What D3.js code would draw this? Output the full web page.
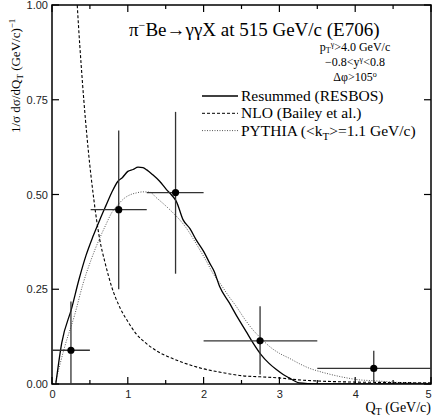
<!DOCTYPE html>
<html><head><meta charset="utf-8">
<script src="https://cdn.jsdelivr.net/npm/d3@7"></script>
<style>html,body{margin:0;padding:0;background:#fff;}svg{display:block;}</style>
</head><body>
<script>
// ---- data ----
const xTicks = [0,1,2,3,4,5];
const yTicks = [0.00,0.25,0.50,0.75,1.00];
const dataX   = [0.25, 0.88, 1.63, 2.745, 4.245];
const dataY   = [0.089, 0.460, 0.505, 0.114, 0.041];
const dataXlo = [0.0, 0.51, 1.25, 2.0, 3.5];
const dataXhi = [0.5, 1.25, 2.0, 3.5, 5.0];
const dataYlo = [0.0, 0.25, 0.291, 0.025, 0.0];
const dataYhi = [0.218, 0.669, 0.718, 0.205, 0.088];

const resX = [0.05,0.128,0.26,0.355,0.45,0.54,0.63,0.71,0.785,0.87,0.93,1.0,1.07,1.135,1.2,1.25,1.33,1.42,1.51,1.58,1.64,1.73,1.82,1.90,2.0,2.08,2.14,2.21,2.34,2.45,2.56,2.66,2.76,2.86,2.96,3.05,3.13,3.2,3.26,3.4,3.6,4.0,4.5,5.0];
const resY = [0.0,0.108,0.2,0.275,0.34,0.389,0.433,0.47,0.504,0.535,0.545,0.561,0.566,0.572,0.571,0.565,0.552,0.535,0.513,0.498,0.482,0.433,0.41,0.381,0.35,0.319,0.297,0.258,0.214,0.175,0.139,0.106,0.077,0.055,0.038,0.025,0.016,0.008,0.003,0.001,0.0,0.0,0.0,0.0];

const nloX = [0.27,0.3,0.333,0.4,0.478,0.55,0.63,0.7,0.785,0.9,1.0,1.1,1.25,1.4,1.5,1.75,2.0,2.25,2.5,2.75,3.0,3.25,3.5,4.0,4.5,5.0];
const nloY = [1.25,1.12,1.0,0.80,0.618,0.49,0.381,0.32,0.258,0.2,0.165,0.135,0.106,0.085,0.075,0.055,0.040,0.030,0.022,0.019,0.016,0.011,0.008,0.005,0.004,0.003];

const pyX = [0.04,0.17,0.30,0.41,0.52,0.63,0.71,0.785,0.87,0.96,1.04,1.11,1.2,1.29,1.38,1.49,1.60,1.69,1.77,1.86,1.95,2.04,2.12,2.23,2.33,2.43,2.54,2.65,2.76,2.87,3.0,3.13,3.26,3.39,3.53,3.66,3.79,3.92,4.05,4.2,4.36,4.5,4.75,5.0];
const pyY = [0.0,0.1,0.183,0.265,0.33,0.385,0.42,0.451,0.473,0.491,0.5,0.504,0.507,0.506,0.491,0.472,0.451,0.432,0.412,0.384,0.354,0.323,0.293,0.262,0.232,0.205,0.172,0.143,0.12,0.099,0.081,0.068,0.054,0.042,0.033,0.026,0.02,0.015,0.011,0.009,0.007,0.005,0.003,0.002];

// ---- layout ----
const W = 432, H = 419;
const m = {l:52, r:1, t:5, b:35};
const svg = d3.select("body").append("svg").attr("width",W).attr("height",H);
const x = d3.scaleLinear().domain([0,5]).range([m.l, W-m.r]);
const y = d3.scaleLinear().domain([0,1]).range([H-m.b, m.t]);
const serif = "'Liberation Serif','Times New Roman',serif";
const sans = "'Liberation Sans',Arial,sans-serif";

svg.append("defs").append("clipPath").attr("id","clip")
  .append("rect").attr("x",x(0)).attr("y",y(1)).attr("width",x(5)-x(0)).attr("height",y(0)-y(1));

// axes with inward ticks
const majorX = xTicks, minorX = d3.range(0.5,5,1);
const gAx = svg.append("g").attr("stroke","#000");
function tickLines(vals, len, side){
  vals.forEach(v=>{
    if(side==="b") gAx.append("line").attr("x1",x(v)).attr("x2",x(v)).attr("y1",y(0)).attr("y2",y(0)-len);
    if(side==="t") gAx.append("line").attr("x1",x(v)).attr("x2",x(v)).attr("y1",y(1)).attr("y2",y(1)+len);
    if(side==="l") gAx.append("line").attr("y1",y(v)).attr("y2",y(v)).attr("x1",x(0)).attr("x2",x(0)+len);
    if(side==="r") gAx.append("line").attr("y1",y(v)).attr("y2",y(v)).attr("x1",x(5)).attr("x2",x(5)-len);
  });
}
gAx.attr("stroke-width",1.2);
tickLines(majorX,7,"b"); tickLines(minorX,4,"b");
tickLines(majorX,7,"t"); tickLines(minorX,4,"t");
tickLines(yTicks,7,"l"); tickLines(yTicks,7,"r");

// tick labels via d3 axes (lines hidden)
const ax = svg.append("g").attr("transform",`translate(0,${y(0)})`)
  .call(d3.axisBottom(x).tickValues(xTicks).tickFormat(d3.format("d")).tickSize(0).tickPadding(6));
const ay = svg.append("g").attr("transform",`translate(${x(0)},0)`)
  .call(d3.axisLeft(y).tickValues(yTicks).tickFormat(d3.format(".2f")).tickSize(0).tickPadding(4));
[ax,ay].forEach(g=>{g.select(".domain").remove(); g.selectAll("text").attr("font-family",sans).attr("font-size",11).attr("fill","#222");});
ax.selectAll(".tick").filter(d=>d===5).select("text").attr("text-anchor","end").attr("dx",0);

svg.append("rect").attr("x",x(0)).attr("y",y(1)).attr("width",x(5)-x(0)).attr("height",y(0)-y(1))
  .attr("fill","none").attr("stroke","#000").attr("stroke-width",1.5);

// curves
const mk = (xs,ys)=>xs.map((v,i)=>[v,ys[i]]);
const line = d3.line().x(d=>x(d[0])).y(d=>y(d[1])).curve(d3.curveMonotoneX);
const gc = svg.append("g").attr("clip-path","url(#clip)").attr("fill","none");
gc.append("path").attr("d",line(mk(nloX,nloY))).attr("stroke","#000").attr("stroke-width",1.1).attr("stroke-dasharray","3,2");
gc.append("path").attr("d",line(mk(pyX,pyY))).attr("stroke","#555").attr("stroke-width",1).attr("stroke-dasharray","1,1.5");
gc.append("path").attr("d",line(mk(resX,resY))).attr("stroke","#000").attr("stroke-width",1.3);

// data points
const gd = svg.append("g");
dataX.forEach((v,i)=>{
  gd.append("line").attr("x1",x(dataXlo[i])).attr("x2",x(dataXhi[i])).attr("y1",y(dataY[i])).attr("y2",y(dataY[i])).attr("stroke","#333").attr("stroke-width",1.3);
  gd.append("line").attr("x1",x(v)).attr("x2",x(v)).attr("y1",y(dataYlo[i])).attr("y2",y(dataYhi[i])).attr("stroke","#333").attr("stroke-width",1.3);
  gd.append("circle").attr("cx",x(v)).attr("cy",y(dataY[i])).attr("r",3.6).attr("fill","#000");
});

// title
const t = svg.append("text").attr("x",129).attr("y",36).attr("font-family",serif).attr("font-size",19).attr("fill","#000");
t.append("tspan").text("π");
t.append("tspan").attr("dy",-7).attr("font-size",12).text("−");
t.append("tspan").attr("dy",7).text("Be→γγX at 515 GeV/c (E706)");

// cuts
const cx0 = 355;
const cf = 12;
const c1 = svg.append("text").attr("x",cx0).attr("y",51).attr("text-anchor","middle").attr("font-family",serif).attr("font-size",cf);
c1.append("tspan").text("p");
c1.append("tspan").attr("font-size",8).attr("dy",2).text("T");
c1.append("tspan").attr("font-size",8).attr("dy",-6).text("γ");
c1.append("tspan").attr("dy",4).text(">4.0 GeV/c");
const c2 = svg.append("text").attr("x",cx0).attr("y",66).attr("text-anchor","middle").attr("font-family",serif).attr("font-size",cf);
c2.append("tspan").text("−0.8<y");
c2.append("tspan").attr("font-size",8).attr("dy",-4).text("γ");
c2.append("tspan").attr("dy",4).text("<0.8");
const c3 = svg.append("text").attr("x",cx0).attr("y",81).attr("text-anchor","middle").attr("font-family",serif).attr("font-size",cf);
c3.append("tspan").text("Δφ>105");
c3.append("tspan").attr("font-size",8).attr("dy",-4).text("o");

// legend
const legNames = ["Resummed (RESBOS)","NLO (Bailey et al.)",null];
const legDash = [null,"3,2","1,1.5"];
const legCol = ["#000","#000","#555"];
const legY = [96,113.3,130.6];
legY.forEach((ly,i)=>{
  svg.append("line").attr("x1",202).attr("x2",238).attr("y1",ly).attr("y2",ly).attr("stroke",legCol[i])
    .attr("stroke-width",i===0?1.3:1).attr("stroke-dasharray",legDash[i]);
  const tx = svg.append("text").attr("x",241).attr("y",ly+5).attr("font-family",serif).attr("font-size",15.5);
  if(legNames[i]) tx.text(legNames[i]);
  else { tx.append("tspan").text("PYTHIA (<k"); tx.append("tspan").attr("font-size",11).attr("dy",4).text("T"); tx.append("tspan").attr("dy",-4).text(">=1.1 GeV/c)"); }
});

// axis titles
const xt = svg.append("text").attr("x",W-1).attr("y",412).attr("text-anchor","end").attr("font-family",serif).attr("font-size",14);
xt.append("tspan").text("Q");
xt.append("tspan").attr("font-size",10).attr("dy",3).text("T");
xt.append("tspan").attr("dy",-3).text(" (GeV/c)");

const yt = svg.append("text").attr("transform","translate(20,133) rotate(-90)").attr("font-family",serif).attr("font-size",13);
yt.append("tspan").text("1/σ dσ/dQ");
yt.append("tspan").attr("font-size",9).attr("dy",3).text("T");
yt.append("tspan").attr("dy",-3).text(" (GeV/c)");
yt.append("tspan").attr("font-size",9).attr("dy",-5).text("−1");
</script>
</body></html>
